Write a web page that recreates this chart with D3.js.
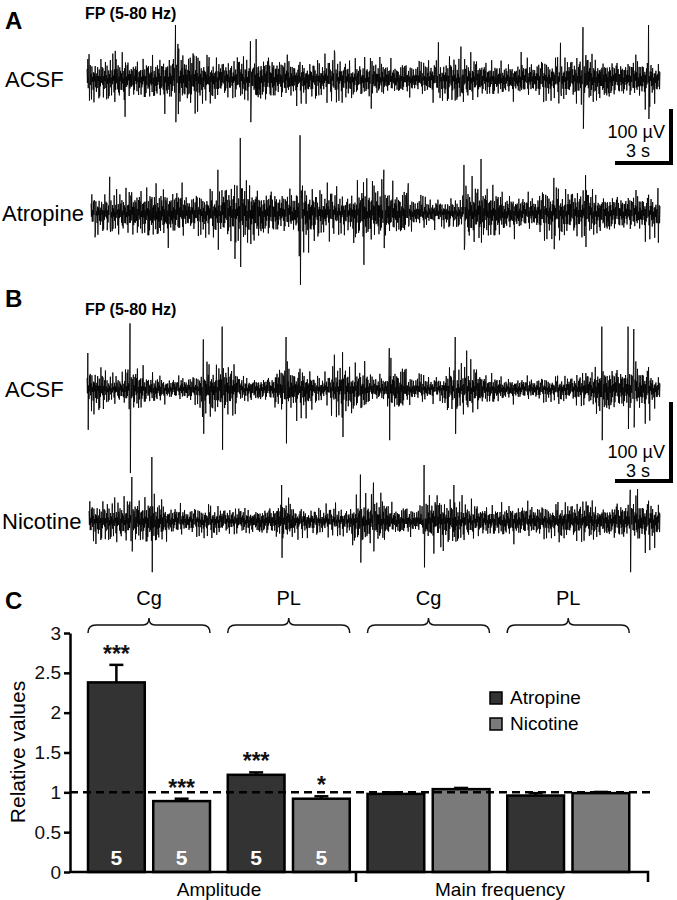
<!DOCTYPE html>
<html>
<head>
<script src="https://cdn.jsdelivr.net/npm/d3@7"></script>
<style>
body { margin: 0; background: #fff; }
text { font-family: 'Liberation Sans', Arial, sans-serif; }
</style>
</head>
<body>
<svg id="fig" width="677" height="900"></svg>
<script>
// ---- panel A / B traces: envelope (half-width, uV, one value per second) and big spikes [t s, up uV, down uV]
const envA1 = [30,32,30,34,40,45,34,30,36,40,34,30,30,32,28,30,26,24,28,34,32,28,26,28,30,34,40,36,30,34,30];
const spikesA1 = [[0.1,46,40],[1.5,52,20],[2.0,20,70],[4.7,100,80],[4.85,65,65],[8.7,70,80],[9.0,74,30],
  [13.2,48,20],[15.1,20,55],[18.7,68,25],[19.9,60,25],[23.1,50,20],[25.2,67,25],[26.4,96,92],[29.9,100,74]];
const envA2 = [28,30,38,42,40,30,34,46,52,40,34,48,36,30,44,46,40,24,20,22,44,42,30,28,36,38,38,34,30,32,30];
const spikesA2 = [[0.2,20,45],[1.0,67,25],[6.8,80,68],[7.7,52,85],[8.0,139,100],[11.2,144,133],[14.6,57,96],
  [15.7,80,65],[17.0,55,25],[20.0,89,68],[20.9,100,55],[24.8,65,67],[26.5,70,63],[30.4,46,55]];
const envB1 = [22,14,24,16,12,14,26,28,14,14,26,24,14,26,24,14,26,14,12,22,24,16,12,12,12,14,18,28,24,26,16];
const spikesB1 = [[0.05,45,51],[2.3,82,105],[6.2,62,56],[7.2,78,76],[10.6,65,68],[13.6,46,60],[16.1,51,64],
  [19.6,65,56],[20.2,48,20],[27.4,78,64],[28.8,78,50],[29.1,75,48]];
const envB2 = [20,20,24,26,16,14,16,14,14,16,22,14,14,14,24,26,16,14,26,22,18,16,18,18,16,20,22,18,22,24,22];
const spikesB2 = [[2.3,55,38],[3.35,80,64],[10.3,45,46],[14.5,58,52],[15.2,48,38],[17.9,70,58],[19.5,45,20],
  [28.9,39,64],[29.3,40,22]];
// fine texture multipliers
const texture1 = [0.62,-0.35,0.88,-0.71,0.2,-0.95,0.45,-0.15,0.78,-0.52,0.33,-0.84,0.97,-0.28,0.1,-0.66,0.55,-0.9,0.4,
  -0.22,0.73,-0.6,0.15,-0.79,0.5,-0.4,0.92,-0.12,0.3,-0.7,0.65,-0.98,0.25,-0.45,0.82,-0.3,0.58];
const texture2 = [1,0.7,1.4,0.8,1,0.6,1.7,0.9,1.1,0.7,1,1.5,0.8,0.6,1.2,1,0.75,1.6,0.9,0.65,1.1,0.85,1.35];

// ---- panel C bars
const groups = ["Cg", "PL", "Cg", "PL"];
const measures = ["Amplitude", "Main frequency"];
const series = ["Atropine", "Nicotine"];
const atropine = [2.38, 1.22, 0.98, 0.96];
const nicotine = [0.89, 0.92, 1.04, 0.99];
const atropineErr = [0.22, 0.03, 0.02, 0.03];
const nicotineErr = [0.03, 0.03, 0.015, 0.015];
const atropineStars = ["***", "***", "", ""];
const nicotineStars = ["***", "*", "", ""];
const nLabels = ["5", "5", "", ""];
const yTicks = [0, 0.5, 1, 1.5, 2, 2.5, 3];

const svg = d3.select('#fig');
const duration = 30.5;
const nSamples = 1400;

function traceData(env, spikes) {
  const pts = [];
  for (let i = 0; i < nSamples; i++) {
    const t = i * duration / (nSamples - 1);
    const e = env[Math.min(env.length - 1, Math.floor(t))];
    pts.push([t, e * texture1[i % texture1.length] * texture2[i % texture2.length]]);
  }
  spikes.forEach(s => {
    const i = Math.round(s[0] / duration * (nSamples - 1));
    pts[i][1] = s[1];
    pts[Math.min(nSamples - 1, i + 1)][1] = -s[2];
  });
  return pts;
}

function drawTrace(env, spikes, x0, center, pxPerUv) {
  const x = d3.scaleLinear().domain([0, duration]).range([x0, 660]);
  const y = d3.scaleLinear().domain([-100, 100]).range([center + 100 * pxPerUv, center - 100 * pxPerUv]);
  const line = d3.line().x(d => x(d[0])).y(d => y(d[1]));
  svg.append('path')
    .attr('d', line(traceData(env, spikes)))
    .attr('fill', 'none')
    .attr('stroke', '#000')
    .attr('stroke-width', 0.85);
}

function scaleBar(top, bottom, textY) {
  svg.append('path')
    .attr('d', `M671,${top}V${bottom}H615`)
    .attr('fill', 'none').attr('stroke', '#000').attr('stroke-width', 4);
  svg.append('text').attr('x', 665).attr('y', textY).attr('text-anchor', 'end')
    .attr('font-size', 18).text('100 µV');
  svg.append('text').attr('x', 650).attr('y', textY + 19).attr('text-anchor', 'end')
    .attr('font-size', 18).text('3 s');
}

function label(txt, x, y, size, bold) {
  svg.append('text').attr('x', x).attr('y', y).attr('font-size', size)
    .attr('font-weight', bold ? 'bold' : 'normal').text(txt);
}

// panel A
label('A', 5, 29, 24, true);
label('FP (5-80 Hz)', 85, 19, 16, true);
label('ACSF', 5, 87, 22);
label('Atropine', 2, 221, 22);
drawTrace(envA1, spikesA1, 87, 79, 0.54);
drawTrace(envA2, spikesA2, 91, 213, 0.54);
scaleBar(109, 163, 138);

// panel B
label('B', 5, 307, 24, true);
label('FP (5-80 Hz)', 85, 315, 16, true);
label('ACSF', 5, 397, 22);
label('Nicotine', 2, 529, 22);
drawTrace(envB1, spikesB1, 87, 389, 0.8);
drawTrace(envB2, spikesB2, 89, 521, 0.8);
scaleBar(402, 481, 458);

// panel C
label('C', 5, 609, 24, true);
const y = d3.scaleLinear().domain([0, 3]).range([872, 633]);
const x0 = d3.scaleBand().domain(d3.range(groups.length)).range([81, 640]);
const x1 = d3.scaleBand().domain(series).range([0, 122]).paddingInner(0.13);
const colors = { Atropine: '#333333', Nicotine: '#7a7a7a' };

// y axis
const yAxis = svg.append('g').attr('transform', 'translate(70,0)')
  .call(d3.axisLeft(y).tickValues(yTicks).tickFormat(d => d).tickSize(6).tickSizeOuter(0));
yAxis.select('.domain').attr('stroke-width', 2.5);
yAxis.selectAll('.tick line').attr('stroke-width', 2.5);
yAxis.selectAll('.tick text').attr('font-size', 19).attr('font-family', "'Liberation Sans', Arial, sans-serif")
  .attr('fill', '#111').attr('x', -9);

svg.append('text')
  .attr('transform', 'translate(25,752) rotate(-90)')
  .attr('text-anchor', 'middle').attr('font-size', 21).text('Relative values');

const rows = [];
groups.forEach((g, i) => {
  rows.push({ gi: i, s: 'Atropine', v: atropine[i], e: atropineErr[i], star: atropineStars[i], n: nLabels[i] });
  rows.push({ gi: i, s: 'Nicotine', v: nicotine[i], e: nicotineErr[i], star: nicotineStars[i], n: nLabels[i] });
});
const bx = d => x0(d.gi) + 7 + x1(d.s);
const bw = x1.bandwidth();

// error bars
rows.forEach(d => {
  const cx = bx(d) + bw / 2;
  svg.append('line').attr('x1', cx).attr('x2', cx).attr('y1', y(d.v)).attr('y2', y(d.v + d.e))
    .attr('stroke', '#000').attr('stroke-width', 2.5);
  svg.append('line').attr('x1', cx - 7).attr('x2', cx + 7).attr('y1', y(d.v + d.e)).attr('y2', y(d.v + d.e))
    .attr('stroke', '#000').attr('stroke-width', 2.5);
});

svg.selectAll('rect.bar').data(rows).enter().append('rect')
  .attr('class', 'bar')
  .attr('x', bx).attr('width', bw)
  .attr('y', d => y(d.v)).attr('height', d => y(0) - y(d.v))
  .attr('fill', d => colors[d.s]).attr('stroke', '#000').attr('stroke-width', 2.5);

// stars and n
rows.forEach(d => {
  const cx = bx(d) + bw / 2;
  if (d.star) {
    svg.append('text').attr('x', cx).attr('y', y(d.v + d.e) - 3).attr('text-anchor', 'middle')
      .attr('font-size', 23).attr('font-weight', 'bold').attr('fill', '#111').text(d.star);
  }
  if (d.n) {
    svg.append('text').attr('x', cx).attr('y', 865).attr('text-anchor', 'middle')
      .attr('font-size', 21).attr('font-weight', 'bold').attr('fill', '#fff').text(d.n);
  }
});

// reference line at 1
svg.append('line').attr('x1', 70).attr('x2', 650).attr('y1', y(1)).attr('y2', y(1))
  .attr('stroke', '#000').attr('stroke-width', 2.5).attr('stroke-dasharray', '8,5');

// x axis
svg.append('path').attr('d', 'M70,872H648V882M356,872V882')
  .attr('fill', 'none').attr('stroke', '#000').attr('stroke-width', 2.5);
svg.append('text').attr('x', 219).attr('y', 896).attr('text-anchor', 'middle').attr('font-size', 19).text(measures[0]);
svg.append('text').attr('x', 500).attr('y', 896).attr('text-anchor', 'middle').attr('font-size', 19).text(measures[1]);

// braces and region labels
groups.forEach((g, i) => {
  const a = x0(i) + 7, b = a + 122, m = (a + b) / 2;
  svg.append('path')
    .attr('d', `M${a},633 Q${a},625 ${a + 8},625 H${m - 6} Q${m},625 ${m},618 Q${m},625 ${m + 6},625 H${b - 8} Q${b},625 ${b},633`)
    .attr('fill', 'none').attr('stroke', '#111').attr('stroke-width', 1.5);
  svg.append('text').attr('x', m).attr('y', 605).attr('text-anchor', 'middle').attr('font-size', 20).text(g);
});

// legend
series.forEach((s, i) => {
  const ly = 692 + i * 26;
  svg.append('rect').attr('x', 490).attr('y', ly).attr('width', 12).attr('height', 12)
    .attr('fill', colors[s]).attr('stroke', '#000').attr('stroke-width', 1.5);
  svg.append('text').attr('x', 510).attr('y', ly + 12).attr('font-size', 19).text(s);
});
</script>
</body>
</html>
